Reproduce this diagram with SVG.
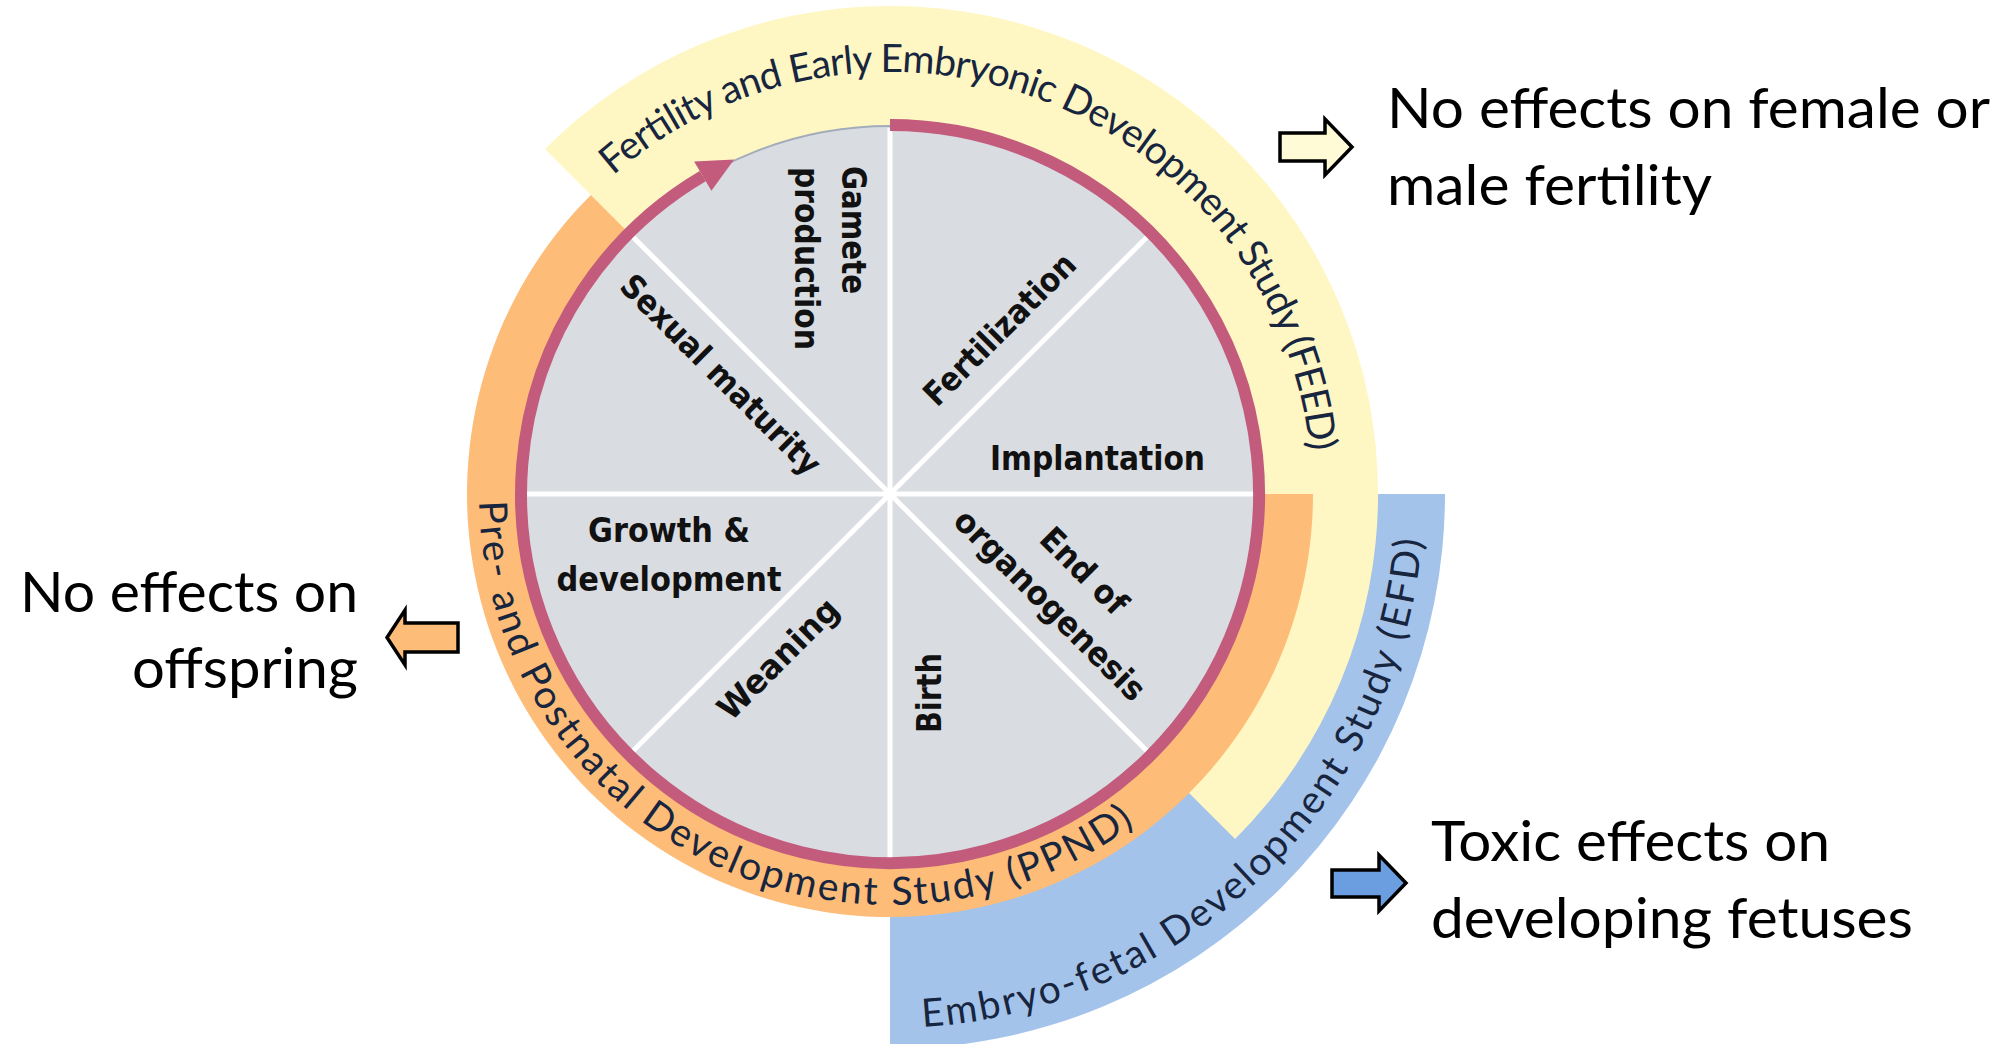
<svg xmlns="http://www.w3.org/2000/svg" width="2013" height="1044" viewBox="0 0 2013 1044">
<style>
.band{font-family:Lato,"Open Sans",sans-serif;font-size:39px;fill:#17253f}
.lbl{font-family:"DejaVu Sans Condensed","DejaVu Sans",sans-serif;font-weight:bold;font-size:33px;fill:#111}
.big{font-family:Lato,"Liberation Sans",sans-serif;font-size:57px;fill:#000}
.barrow{stroke:#000;stroke-width:3.5;stroke-linejoin:miter}
.spoke{stroke:#fff;stroke-width:5}
</style>
<defs>
<path id="pFEED" d="M -276.9 -318.5 A 422 422 0 0 1 420.4 -36.8"/>
<path id="pPPND" d="M -410.9 7.2 A 411 411 0 0 0 247.3 328.2"/>
<path id="pEFD" d="M 32.6 533 A 534 534 0 0 0 532.4 41.9"/>
</defs>
<rect width="2013" height="1044" fill="#fff"/>
<g transform="translate(890 494)">
  <g id="band-efd">
    <path d="M 555 0 A 555 555 0 0 1 0 555 L 0 400 A 400 400 0 0 0 400 0 Z" fill="#a4c3ea"/>
    <text class="band"><textPath href="#pEFD" textLength="760">Embryo-fetal Development Study (EFD)</textPath></text>
  </g>
  <g id="band-feed">
    <path d="M -345.1 -345.1 A 488 488 0 0 1 345.1 -345.1 A 488 488 0 0 1 345.1 345.1 L 258.1 258.1 A 365 365 0 0 0 258.1 -258.1 A 365 365 0 0 0 -258.1 -258.1 Z" fill="#fff7c3"/>
    <text class="band"><textPath href="#pFEED" textLength="922">Fertility and Early Embryonic Development Study (FEED)</textPath></text>
  </g>
  <g id="band-ppnd">
    <path d="M 423 0 A 423 423 0 1 1 -299.1 -299.1 L -258.1 -258.1 A 365 365 0 1 0 365 0 Z" fill="#fdbc77"/>
    <text class="band"><textPath href="#pPPND" textLength="900">Pre- and Postnatal Development Study (PPND)</textPath></text>
  </g>
  <g id="wheel">
    <circle r="368" fill="#d9dce1" stroke="#a2acba" stroke-width="2"/>
    <line class="spoke" x1="0" y1="-366" x2="0" y2="366"/>
    <line class="spoke" x1="-366" y1="0" x2="366" y2="0"/>
    <line class="spoke" x1="-258.8" y1="-258.8" x2="258.8" y2="258.8"/>
    <line class="spoke" x1="258.8" y1="-258.8" x2="-258.8" y2="258.8"/>
  </g>
  <g id="cycle-arrow">
    <path d="M 0 -369 A 369 369 0 1 1 -187.3 -317.9" fill="none" stroke="#c35b7d" stroke-width="12"/>
    <polygon points="-155.9,-334.4 -195.9,-332.6 -178.6,-303.3" fill="#c35b7d"/>
  </g>
</g>
<g id="stage-gamete">
  <text class="lbl" transform="translate(842 166) rotate(90)" textLength="128" lengthAdjust="spacingAndGlyphs">Gamete</text>
  <text class="lbl" transform="translate(795 167) rotate(90)" textLength="183" lengthAdjust="spacingAndGlyphs">production</text>
</g>
<g id="stage-fertilization">
  <text class="lbl" transform="translate(937 408) rotate(-45)" textLength="200" lengthAdjust="spacingAndGlyphs">Fertilization</text>
</g>
<g id="stage-implantation">
  <text class="lbl" x="990" y="470" textLength="215" lengthAdjust="spacingAndGlyphs">Implantation</text>
</g>
<g id="stage-organogenesis">
  <text class="lbl" text-anchor="middle" transform="translate(1076 579) rotate(45)" textLength="108" lengthAdjust="spacingAndGlyphs">End of</text>
  <text class="lbl" text-anchor="middle" transform="translate(1042 613) rotate(45)" textLength="255" lengthAdjust="spacingAndGlyphs">organogenesis</text>
</g>
<g id="stage-birth">
  <text class="lbl" transform="translate(941 733) rotate(-90)" textLength="80" lengthAdjust="spacingAndGlyphs">Birth</text>
</g>
<g id="stage-weaning">
  <text class="lbl" transform="translate(731 722) rotate(-45)" textLength="156" lengthAdjust="spacingAndGlyphs">Weaning</text>
</g>
<g id="stage-growth">
  <text class="lbl" x="669" y="542" text-anchor="middle" textLength="162" lengthAdjust="spacingAndGlyphs">Growth &amp;</text>
  <text class="lbl" x="669" y="591" text-anchor="middle" textLength="225" lengthAdjust="spacingAndGlyphs">development</text>
</g>
<g id="stage-sexual">
  <text class="lbl" transform="translate(618 288) rotate(45)" textLength="268" lengthAdjust="spacingAndGlyphs">Sexual maturity</text>
</g>
<g id="connectors">
  <polygon class="barrow" fill="#fffbd6" points="1280,133 1325,133 1325,119 1352,147 1325,175 1325,161 1280,161"/>
  <polygon class="barrow" fill="#fdbc77" points="458,623 405,623 405,610 387,637.5 405,665 405,652 458,652"/>
  <polygon class="barrow" fill="#6a9ee0" points="1332,870 1379,870 1379,855 1406,883 1379,911 1379,897 1332,897"/>
</g>
<g id="outcome-feed">
  <text class="big" x="1387" y="128" textLength="603" lengthAdjust="spacingAndGlyphs">No effects on female or</text>
  <text class="big" x="1387" y="205" textLength="325" lengthAdjust="spacingAndGlyphs">male fertility</text>
</g>
<g id="outcome-ppnd">
  <text class="big" x="358" y="612" text-anchor="end" textLength="338" lengthAdjust="spacingAndGlyphs">No effects on</text>
  <text class="big" x="358" y="688" text-anchor="end" textLength="226" lengthAdjust="spacingAndGlyphs">offspring</text>
</g>
<g id="outcome-efd">
  <text class="big" x="1431" y="861" textLength="399" lengthAdjust="spacingAndGlyphs">Toxic effects on</text>
  <text class="big" x="1431" y="938" textLength="482" lengthAdjust="spacingAndGlyphs">developing fetuses</text>
</g>
</svg>
